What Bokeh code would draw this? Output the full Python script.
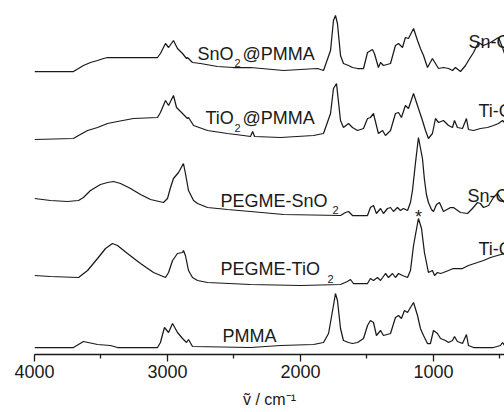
from bokeh.plotting import figure
from bokeh.models import Range1d, FixedTicker
from bokeh.core.properties import value
from bokeh.embed import file_html
from bokeh.resources import INLINE

# ---------------- data (wavenumber in cm^-1, stacked intensity in arbitrary units) -------------
pmma_w = [4000, 3707, 3632, 3526, 3429, 3376, 3075, 3053, 3023, 2992, 2962, 2925, 2887, 2857, 2842, 2812,
          2376, 2150, 1902, 1827, 1789, 1752, 1737, 1722, 1699, 1677, 1639, 1609, 1571, 1526, 1496, 1474,
          1451, 1429, 1398, 1376, 1323, 1286, 1263, 1241, 1218, 1195, 1173, 1150, 1120, 1098, 1075, 1045,
          1023, 1000, 970, 947, 910, 887, 857, 842, 820, 782, 752, 737, 699, 549, 496, 481, 466]
pmma_y = [7, 7, 13, 10, 9, 7, 7, 12, 27, 22, 31, 22, 16, 12, 15, 8,
          7, 9, 10, 12, 21, 49, 61, 54, 26, 14, 12, 11, 12, 16, 29, 34,
          32, 19, 24, 19, 21, 37, 39, 36, 44, 42, 47, 52, 39, 26, 19, 11,
          11, 24, 21, 16, 14, 12, 14, 18, 13, 11, 20, 9, 7, 7, 9, 12, 9]

sno2_pmma_w = [4000, 3707, 3669, 3632, 3579, 3526, 3481, 3451, 3301, 3075, 3053, 3015, 2992, 2955, 2925,
               2887, 2857, 2850, 2812, 2752, 2624, 2504, 2376, 2128, 1872, 1827, 1774, 1752, 1737, 1722,
               1699, 1677, 1639, 1609, 1571, 1526, 1496, 1459, 1444, 1414, 1398, 1376, 1323, 1286, 1263,
               1233, 1211, 1188, 1150, 1120, 1098, 1075, 1045, 1008, 985, 962, 925, 887, 857, 835, 797,
               759, 737, 699, 662, 624, 571, 511, 481, 466]
sno2_pmma_y = [283, 283, 286, 289, 292, 294, 296, 297, 297, 297, 301, 311, 307, 314, 306,
               301, 296, 297, 292, 291, 288, 287, 287, 284, 286, 284, 304, 334, 339, 331,
               299, 291, 289, 287, 286, 286, 302, 305, 301, 287, 292, 289, 291, 309, 311,
               307, 317, 316, 326, 314, 306, 299, 287, 296, 291, 286, 287, 286, 284, 287, 283,
               289, 294, 302, 312, 309, 312, 317, 307, 301]

tio2_pmma_w = [4000, 3707, 3669, 3601, 3526, 3451, 3376, 3256, 3075, 3053, 3015, 2992, 2955, 2932, 2887,
               2850, 2842, 2804, 2699, 2549, 2429, 2376, 2360, 2345, 2150, 1902, 1827, 1774, 1752, 1729,
               1722, 1699, 1677, 1639, 1609, 1571, 1526, 1496, 1474, 1451, 1444, 1414, 1383, 1361, 1323,
               1286, 1263, 1241, 1211, 1188, 1150, 1113, 1083, 1060, 1038, 1008, 985, 962, 925, 887, 857,
               842, 820, 782, 752, 737, 699, 647, 594, 549, 511, 481, 466]
tio2_pmma_y = [215, 216, 219, 224, 227, 231, 233, 236, 237, 242, 254, 249, 259, 247, 241,
               236, 237, 229, 224, 221, 219, 218, 223, 218, 217, 219, 221, 241, 266, 271,
               262, 234, 227, 231, 227, 224, 226, 236, 237, 241, 237, 221, 224, 219, 224,
               241, 242, 237, 249, 246, 261, 246, 234, 224, 216, 221, 236, 232, 234, 229, 227,
               234, 227, 226, 236, 225, 224, 226, 227, 229, 231, 234, 232]

pegme_sno2_w = [4000, 3880, 3752, 3669, 3632, 3579, 3504, 3451, 3406, 3353, 3278, 3203, 3128, 3030, 3000,
                2977, 2955, 2917, 2880, 2865, 2842, 2804, 2774, 2699, 2549, 2376, 2128, 1699, 1662, 1639,
                1609, 1496, 1474, 1451, 1429, 1398, 1376, 1346, 1323, 1301, 1271, 1248, 1226, 1195, 1173,
                1158, 1135, 1113, 1083, 1068, 1053, 1038, 1015, 1000, 977, 955, 925, 872, 850, 797, 744,
                707, 669, 647, 624, 586, 549, 519, 496, 466]
pegme_sno2_y = [156, 154, 153, 154, 157, 164, 170, 172, 173, 171, 166, 160, 155, 152, 156,
                167, 176, 182, 191, 181, 164, 154, 151, 147, 145, 143, 140, 139, 142, 143,
                139, 139, 147, 149, 141, 146, 141, 146, 147, 143, 147, 144, 146, 144, 152,
                164, 192, 217, 196, 175, 160, 152, 145, 143, 150, 152, 143, 147, 147, 142, 141,
                146, 152, 151, 147, 149, 157, 161, 156, 152]

pegme_tio2_w = [4000, 3880, 3669, 3601, 3526, 3466, 3414, 3376, 3301, 3203, 3105, 3015, 2992, 2962, 2925,
                2887, 2880, 2865, 2842, 2812, 2774, 2699, 2376, 2000, 1699, 1647, 1624, 1602, 1496, 1474,
                1451, 1421, 1398, 1361, 1338, 1308, 1286, 1263, 1233, 1195, 1173, 1150, 1120, 1113, 1090,
                1068, 1038, 1008, 992, 970, 947, 925, 887, 850, 782, 737, 669, 624, 571, 519, 466]
pegme_tio2_y = [79, 78, 77, 84, 96, 106, 111, 109, 101, 91, 82, 77, 82, 94, 101,
                102, 104, 99, 84, 77, 74, 72, 70, 69, 70, 73, 75, 71, 71, 76,
                74, 77, 74, 81, 77, 81, 77, 81, 79, 77, 84, 109, 131, 136, 126,
                102, 82, 84, 79, 82, 81, 82, 84, 86, 86, 89, 92, 94, 97, 99, 101]

series = [
    (sno2_pmma_w, sno2_pmma_y),
    (tio2_pmma_w, tio2_pmma_y),
    (pegme_sno2_w, pegme_sno2_y),
    (pegme_tio2_w, pegme_tio2_y),
    (pmma_w, pmma_y),
]

major_ticks = [4000, 3000, 2000, 1000]
minor_ticks = [3500, 2500, 1500, 500]

# label pieces: text, wavenumber, height, font size
label_text = ["SnO", "2", "@PMMA",
              "TiO", "2", "@PMMA",
              "PEGME-SnO", "2",
              "PEGME-TiO", "2",
              "PMMA",
              "Sn-O", "Ti-O", "Sn-O", "Ti-O"]
label_x = [2774, 2497, 2436,
           2714, 2497, 2436,
           2601, 1760,
           2601, 1797,
           2586,
           737, 662, 744, 662]
label_y = [301, 292, 301,
           237, 227, 237,
           154, 145,
           86, 76,
           19,
           313, 244, 159, 106]
label_size = ["18px", "11px", "18px",
              "18px", "11px", "18px",
              "18px", "11px",
              "18px", "11px",
              "18px",
              "18px", "18px", "18px", "18px"]

star_x = [1113]
star_y = [138]

FONT = "Liberation Sans"
INK = "#1a1a1a"

p = figure(width=504, height=412, output_backend="svg", toolbar_location=None,
           x_range=Range1d(4000, 466), y_range=Range1d(0, 354),
           y_axis_type=None,
           min_border_left=34, min_border_right=0, min_border_top=0, min_border_bottom=58)
p.outline_line_color = None
p.grid.visible = False
p.background_fill_color = "white"

for w, y in series:
    p.line(w, y, line_color=INK, line_width=1.25)

for t, x, y, s in zip(label_text, label_x, label_y, label_size):
    p.text(x=[x], y=[y], text=[t], text_font=value(FONT), text_font_size=value(s),
           text_color=INK, text_align="left", text_baseline="alphabetic")

p.text(x=star_x, y=star_y, text=["*"], text_font=value(FONT), text_font_size=value("18px"),
       text_color=INK, text_align="center", text_baseline="alphabetic")

ax = p.xaxis[0]
ax.ticker = FixedTicker(ticks=major_ticks, minor_ticks=minor_ticks)
ax.axis_line_color = INK
ax.axis_line_width = 1.3
ax.major_tick_line_color = INK
ax.major_tick_line_width = 1.3
ax.minor_tick_line_color = INK
ax.minor_tick_line_width = 1.3
ax.major_tick_in = 0
ax.major_tick_out = 7
ax.minor_tick_in = 0
ax.minor_tick_out = 4
ax.major_label_text_font = FONT
ax.major_label_text_font_size = "18px"
ax.major_label_text_color = INK
ax.major_label_standoff = 3
ax.axis_label = "ṽ / cm⁻¹"
ax.axis_label_text_font = FONT
ax.axis_label_text_font_size = "16px"
ax.axis_label_text_font_style = "normal"
ax.axis_label_text_color = INK
ax.axis_label_standoff = 10

open("out.html", "w").write(file_html(p, INLINE))
